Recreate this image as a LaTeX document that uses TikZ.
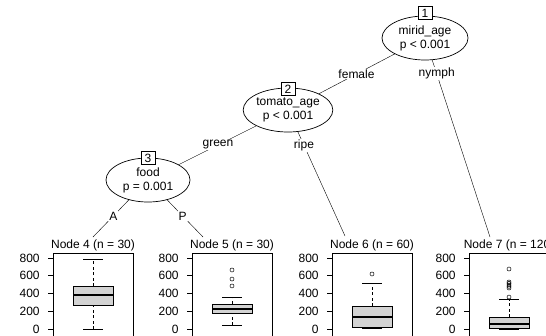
\documentclass[tikz,border=0pt]{standalone}
\usepackage{fontspec}
\setmainfont{Liberation Sans}
\usetikzlibrary{shapes.geometric,backgrounds}
\definecolor{boxgray}{RGB}{211,211,211}
\begin{document}
\begin{tikzpicture}[x=1pt,y=-1pt,line width=0.7pt,
  every node/.style={font=\fontsize{12}{14}\selectfont},
  innernode/.style={ellipse,draw,fill=white,minimum height=44pt,inner sep=0pt,align=center},
  idbox/.style={draw,fill=white,inner sep=1pt,minimum width=14pt,minimum height=13pt},
  elab/.style={fill=white,inner sep=1pt},
  paneltitle/.style={inner sep=0pt},
  ticklab/.style={anchor=east,inner sep=0pt},
  whisk/.style={dash pattern=on 3pt off 2.5pt},
  medline/.style={line width=1.7pt},
  bbox/.style={draw,fill=boxgray},
  outl/.style={line width=0.5pt}]
\useasboundingbox (0,0) rectangle (546,335);
\clip (0,0) rectangle (546,335);

% inner nodes
\node[innernode,minimum width=86pt] (n1) at (425,38) {mirid\_age\\p < 0.001};
\node[idbox] (b1) at (425,13) {1};
\node[innernode,minimum width=86pt] (n2) at (288,110) {tomato\_age\\p < 0.001};
\node[idbox] (b2) at (288,89) {2};
\node[innernode,minimum width=84pt] (n3) at (148,180) {food\\p = 0.001};
\node[idbox] (b3) at (148,158) {3};

% terminal tops
\coordinate (t4) at (93,237);
\coordinate (t5) at (203,237);
\coordinate (t6) at (345,236);
\coordinate (t7) at (490,237);

% edges
\begin{scope}[on background layer]
\draw (n1.center) -- node[elab,pos=0.50]{female} (n2.center);
\draw (n1.center) -- node[elab,pos=0.18]{nymph} (t7);
\draw (n2.center) -- node[elab,pos=0.50]{green} (n3.center);
\draw (n2.center) -- node[elab,pos=0.28]{ripe} (t6);
\draw (n3.center) -- node[elab,pos=0.63]{A} (t4);
\draw (n3.center) -- node[elab,pos=0.63]{P} (t5);
\end{scope}

% terminal panels: titles
\node[paneltitle] (p4) at (93,245) {Node 4 (n = 30)};
\node[paneltitle] (p5) at (232,245) {Node 5 (n = 30)};
\node[paneltitle] (p6) at (372,245) {Node 6 (n = 60)};
\node[paneltitle] (p7) at (509,245) {Node 7 (n = 120)};

% panel frames and axes
\foreach \cx in {93,232,372,509}{
  \draw (\cx-40,253) rectangle (\cx+40,360);
  \foreach \v in {0,200,400,600,800}{
    \draw (\cx-45,329-0.08875*\v) -- (\cx-40,329-0.08875*\v);
    \node[ticklab] at (\cx-53,329-0.08875*\v) {\v};
  }
}

% box plots (value coordinates)
% Node 4
\begin{scope}[shift={(93,329)},y=0.08875pt]
\draw[whisk] (0,484) -- (0,790);
\draw[whisk] (0,0) -- (0,270);
\draw (-10,790) -- (10,790);
\draw (-10,0) -- (10,0);
\draw[bbox] (-20,270) rectangle (20,484);
\draw[medline] (-20,383) -- (20,383);
\end{scope}
% Node 5
\begin{scope}[shift={(232,329)},y=0.08875pt]
\draw[whisk] (0,282) -- (0,360);
\draw[whisk] (0,45) -- (0,180);
\draw (-10,360) -- (10,360);
\draw (-10,45) -- (10,45);
\draw[bbox] (-20,180) rectangle (20,282);
\draw[medline] (-20,225) -- (20,225);
\foreach \o in {485,563,665}{\draw[outl] (0,\o) circle[radius=2pt];}
\end{scope}
% Node 6
\begin{scope}[shift={(372,329)},y=0.08875pt]
\draw[whisk] (0,259) -- (0,518);
\draw[whisk] (0,8) -- (0,23);
\draw (-10,518) -- (10,518);
\draw (-10,8) -- (10,8);
\draw[bbox] (-20,23) rectangle (20,259);
\draw[medline] (-20,135) -- (20,135);
\foreach \o in {620}{\draw[outl] (0,\o) circle[radius=2pt];}
\end{scope}
% Node 7
\begin{scope}[shift={(509,329)},y=0.08875pt]
\draw[whisk] (0,135) -- (0,338);
\draw[whisk] (0,0) -- (0,11);
\draw (-10,338) -- (10,338);
\draw (-10,0) -- (10,0);
\draw[bbox] (-20,11) rectangle (20,135);
\draw[medline] (-20,56) -- (20,56);
\foreach \o in {360,462,480,496,515,530,676}{\draw[outl] (0,\o) circle[radius=2pt];}
\end{scope}
\end{tikzpicture}
\end{document}
